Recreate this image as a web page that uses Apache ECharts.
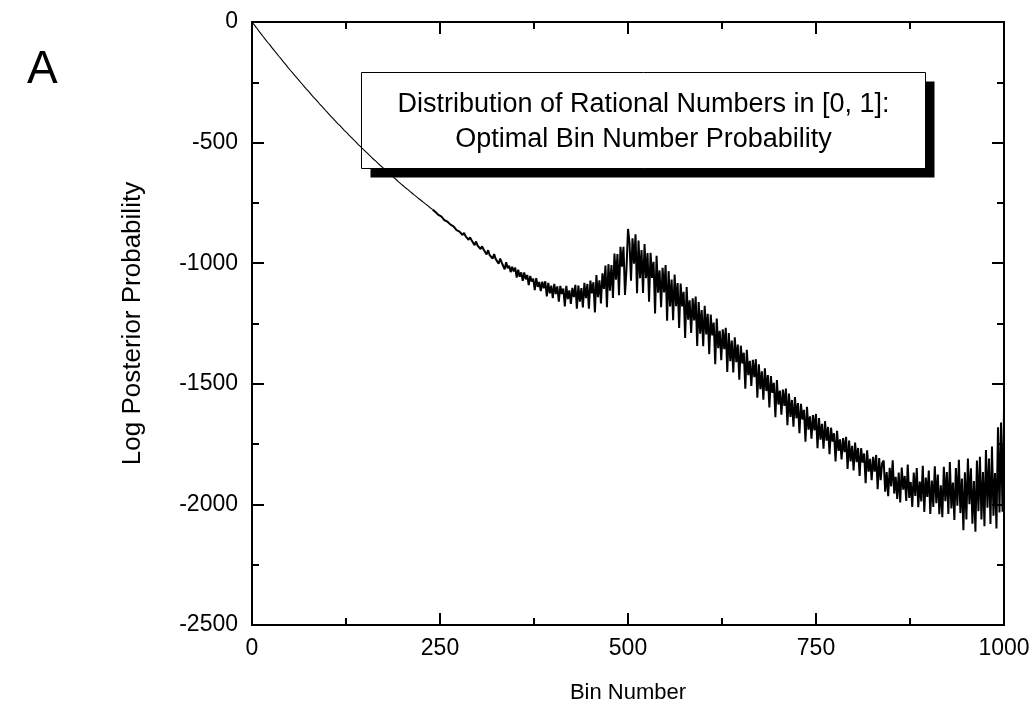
<!DOCTYPE html>
<html>
<head>
<meta charset="utf-8">
<script src="https://cdn.jsdelivr.net/npm/echarts@6/dist/echarts.min.js"></script>
<style>
  html, body { margin: 0; padding: 0; background: #fff; }
  #chart { width: 1034px; height: 709px; }
</style>
</head>
<body>
<div id="chart"></div>
<script>
// Log posterior probability against the number of bins.
// Smooth head: bins 0..240, one value every 3 bins.
const headStep = 3;
const headValues = [
  0, -12, -24, -37, -49, -61, -73, -85, -96, -108,
  -120, -131, -143, -154, -166, -177, -189, -200, -211, -222,
  -233, -244, -255, -266, -277, -287, -298, -309, -319, -329,
  -340, -350, -360, -371, -381, -391, -401, -411, -421, -430,
  -440, -450, -459, -469, -478, -488, -497, -507, -516, -525,
  -534, -543, -552, -561, -570, -578, -587, -596, -604, -613,
  -621, -630, -638, -646, -654, -663, -671, -679, -687, -694,
  -702, -710, -718, -725, -733, -740, -748, -755, -762, -770,
  -777
];
// Oscillating tail: bins 242..1000, one value every 2 bins.
const tailStart = 242;
const tailStep = 2;
const tailValues = [
  -780, -788, -790, -800, -798, -807, -809, -822, -817,
  -828, -829, -840, -838, -847, -846, -863, -856, -869, -867,
  -883, -874, -888, -885, -903, -893, -905, -904, -925, -910,
  -927, -923, -941, -930, -943, -936, -964, -946, -966, -958,
  -981, -962, -982, -974, -1002, -981, -997, -992, -1025, -996,
  -1021, -1011, -1037, -1015, -1034, -1018, -1060, -1027, -1056, -1038,
  -1073, -1038, -1067, -1049, -1091, -1053, -1076, -1064, -1112, -1062,
  -1098, -1078, -1116, -1077, -1104, -1075, -1138, -1082, -1125, -1093,
  -1145, -1086, -1128, -1096, -1159, -1094, -1128, -1105, -1179, -1094,
  -1149, -1113, -1169, -1102, -1141, -1090, -1189, -1093, -1159, -1103,
  -1183, -1081, -1145, -1086, -1189, -1072, -1125, -1079, -1204, -1049,
  -1141, -1071, -1167, -1042, -1107, -1010, -1182, -1004, -1114, -1008,
  -1144, -960, -1068, -962, -1133, -932, -1014, -932, -1132, -1024,
  -858, -914, -1073, -897, -1002,
  -880, -1124, -906, -1062, -945,
  -1123, -921, -1062, -958, -1160, -957, -1061, -994, -1208, -969,
  -1122, -1030, -1182, -1019, -1121, -1008, -1238, -1033, -1179, -1068,
  -1236, -1047, -1178, -1082, -1268, -1084, -1179, -1119, -1310, -1099,
  -1234, -1154, -1289, -1146, -1237, -1138, -1343, -1161, -1292, -1194,
  -1344, -1177, -1295, -1210, -1377, -1213, -1299, -1246, -1419, -1229,
  -1352, -1280, -1402, -1274, -1356, -1268, -1451, -1290, -1406, -1321,
  -1453, -1307, -1410, -1337, -1483, -1342, -1416, -1371, -1520, -1359,
  -1464, -1405, -1509, -1401, -1473, -1398, -1558, -1419, -1522, -1448,
  -1566, -1436, -1530, -1464, -1598, -1468, -1538, -1496, -1638, -1484,
  -1586, -1528, -1628, -1524, -1592, -1520, -1672, -1540, -1637, -1567,
  -1678, -1555, -1643, -1580, -1705, -1583, -1648, -1608, -1740, -1595,
  -1690, -1635, -1728, -1630, -1693, -1625, -1767, -1642, -1732, -1666,
  -1769, -1655, -1736, -1679, -1792, -1682, -1740, -1705, -1822, -1695,
  -1778, -1730, -1814, -1725, -1783, -1720, -1853, -1735, -1822, -1757,
  -1859, -1744, -1825, -1766, -1882, -1767, -1827, -1789, -1912, -1776,
  -1864, -1811, -1900, -1803, -1864, -1795, -1937, -1808, -1900, -1829,
  -1818, -1947, -1866, -1966, -1848, -1925, -1817, -1955, -1886, -1977,
  -1868, -1992, -1847, -1939, -1882, -1986, -1835, -1973, -1907, -2011,
  -1868, -1965, -1849, -2012, -1905, -1988, -1840, -2031, -1889, -1969,
  -1860, -2040, -1901, -2011, -1842, -1995, -1876, -2041, -1921, -2053,
  -1844, -1987, -1866, -2040, -1824, -2017, -1909, -2065, -1849, -2005,
  -1815, -2036, -1893, -2107, -1867, -2062, -1810, -1999, -1850, -2080,
  -1903, -2113, -1818, -2028, -1803, -2062, -1866, -2090, -1775, -2014,
  -1810, -2081, -1760, -2047, -1870, -2100, -1680, -2033, -1660, -2030,
  -1610
];

const xTicks = { min: 0, max: 1000, step: 250 };
const yTicks = { min: -2500, max: 0, step: 500 };

const chartTitle = ['Distribution of Rational Numbers in [0, 1]:', 'Optimal Bin Number Probability'];
const xName = 'Bin Number';
const yName = 'Log Posterior Probability';
const panelLetter = 'A';

const headPoints = headValues.map((v, i) => [i * headStep, v]);
const tailPoints = [headPoints[headPoints.length - 1]]
  .concat(tailValues.map((v, j) => [tailStart + j * tailStep, v]));

const FONT = '"Liberation Sans", Arial, sans-serif';
const frameLine = { show: true, onZero: false, lineStyle: { color: '#000', width: 2 } };
const majorTick = { show: true, inside: true, length: 12, lineStyle: { color: '#000', width: 2 } };
const minorTick = { show: true, splitNumber: 2, length: 7, lineStyle: { color: '#000', width: 2 } };
const plainNumber = (v) => String(v);

const chart = echarts.init(document.getElementById('chart'), null, { renderer: 'canvas' });

const curve = (data, width) => ({
  type: 'line',
  xAxisIndex: 0, yAxisIndex: 0,
  data: data,
  showSymbol: false,
  sampling: null,
  lineStyle: { color: '#000', width: width },
  z: 3
});

chart.setOption({
  backgroundColor: '#fff',
  animation: false,
  grid: { left: 252, top: 22, right: 30, bottom: 83, containLabel: false },
  xAxis: [
    {
      type: 'value', position: 'bottom',
      min: xTicks.min, max: xTicks.max, interval: xTicks.step,
      axisLine: frameLine, axisTick: majorTick, minorTick: minorTick,
      splitLine: { show: false }, minorSplitLine: { show: false },
      axisLabel: { color: '#000', fontSize: 23, fontFamily: FONT, margin: 12, formatter: plainNumber },
      name: xName, nameLocation: 'middle', nameGap: 57,
      nameTextStyle: { color: '#000', fontSize: 22, fontFamily: FONT }
    },
    {
      type: 'value', position: 'top',
      min: xTicks.min, max: xTicks.max, interval: xTicks.step,
      axisLine: frameLine, axisTick: majorTick, minorTick: minorTick,
      splitLine: { show: false }, axisLabel: { show: false }
    }
  ],
  yAxis: [
    {
      type: 'value', position: 'left',
      min: yTicks.min, max: yTicks.max, interval: yTicks.step,
      axisLine: frameLine, axisTick: majorTick, minorTick: minorTick,
      splitLine: { show: false }, minorSplitLine: { show: false },
      axisLabel: { color: '#000', fontSize: 23, fontFamily: FONT, margin: 14, formatter: plainNumber },
      name: yName, nameLocation: 'middle', nameGap: 106, nameRotate: 90,
      nameTextStyle: { color: '#000', fontSize: 26, fontFamily: FONT }
    },
    {
      type: 'value', position: 'right',
      min: yTicks.min, max: yTicks.max, interval: yTicks.step,
      axisLine: frameLine, axisTick: majorTick, minorTick: minorTick,
      splitLine: { show: false }, axisLabel: { show: false }
    }
  ],
  series: [
    curve(headPoints, 1.1),
    curve(tailPoints, 2)
  ],
  graphic: [
    {
      type: 'text', left: 27, top: 47,
      style: { text: panelLetter, fill: '#000', font: '46px ' + FONT }
    },
    {
      type: 'group', left: 361, top: 72, z: 10,
      children: [
        { type: 'rect', shape: { x: 9, y: 9, width: 564, height: 96 }, style: { fill: '#000' } },
        { type: 'rect', shape: { x: 0, y: 0, width: 564, height: 96 }, style: { fill: '#fff', stroke: '#000', lineWidth: 1 } },
        {
          type: 'text', x: 282, y: 50,
          style: {
            text: chartTitle.join('\n'), fill: '#000', font: '27px ' + FONT,
            align: 'center', verticalAlign: 'middle', lineHeight: 35
          }
        }
      ]
    }
  ]
});
</script>
</body>
</html>
